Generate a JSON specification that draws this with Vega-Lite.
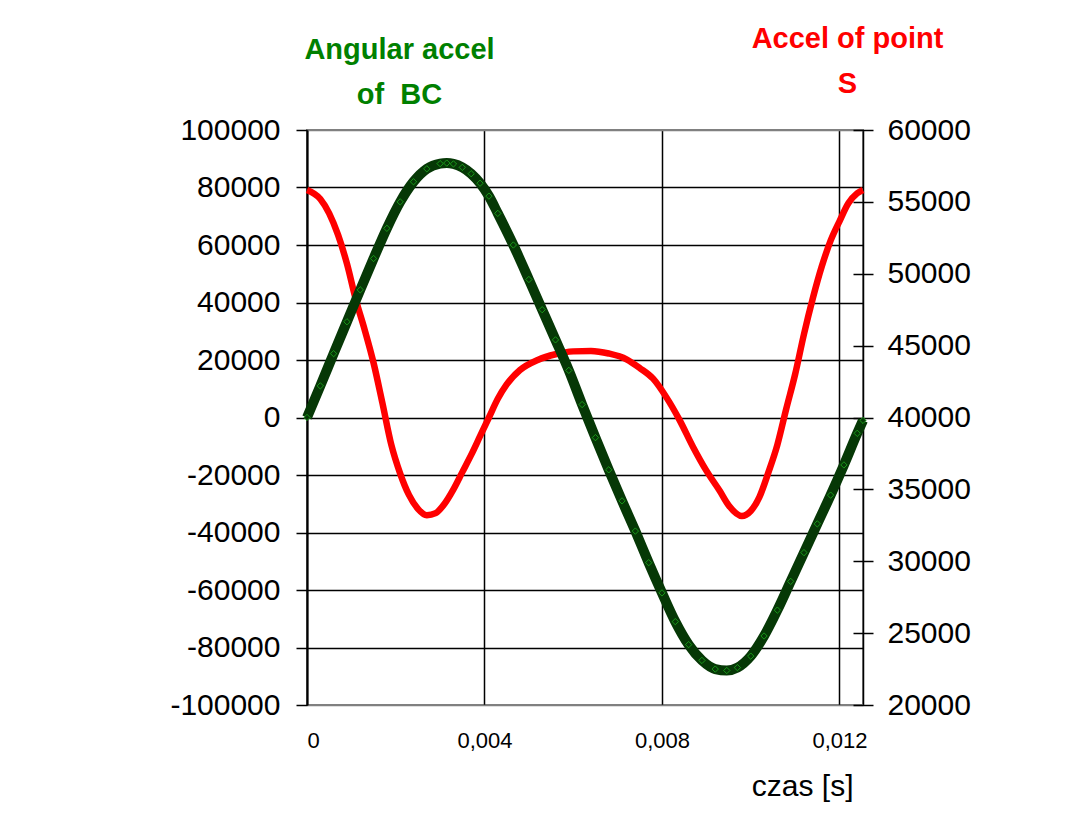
{
  "$schema": "https://vega.github.io/schema/vega-lite/v6.json",
  "width": 556,
  "height": 575,
  "autosize": {"type": "none"},
  "padding": {"left": 307, "top": 130, "right": 216, "bottom": 122},
  "background": "white",
  "config": {
    "font": "Liberation Sans",
    "view": {"stroke": "#808080", "strokeWidth": 2}
  },
  "datasets": {
    "ang": [
      {"t": 0, "v": 0},
      {"t": 0.0003, "v": 11000},
      {"t": 0.0006, "v": 22200},
      {"t": 0.0009, "v": 33300},
      {"t": 0.0012, "v": 44400},
      {"t": 0.0015, "v": 55300},
      {"t": 0.0018, "v": 65800},
      {"t": 0.0021, "v": 75000},
      {"t": 0.0024, "v": 82000},
      {"t": 0.0027, "v": 86500},
      {"t": 0.003, "v": 88300},
      {"t": 0.00315, "v": 88500},
      {"t": 0.0033, "v": 88200},
      {"t": 0.0035, "v": 87000},
      {"t": 0.0037, "v": 84800},
      {"t": 0.0039, "v": 81500},
      {"t": 0.0041, "v": 77000},
      {"t": 0.0043, "v": 71000},
      {"t": 0.00465, "v": 60000},
      {"t": 0.005, "v": 48000},
      {"t": 0.0053, "v": 37500},
      {"t": 0.0056, "v": 27000},
      {"t": 0.0059, "v": 16400},
      {"t": 0.0062, "v": 4500},
      {"t": 0.0065, "v": -7000},
      {"t": 0.0068, "v": -18200},
      {"t": 0.0071, "v": -29000},
      {"t": 0.0074, "v": -39500},
      {"t": 0.0077, "v": -50500},
      {"t": 0.008, "v": -61000},
      {"t": 0.0083, "v": -71000},
      {"t": 0.0086, "v": -79000},
      {"t": 0.0089, "v": -84500},
      {"t": 0.0092, "v": -87500},
      {"t": 0.00946, "v": -88000},
      {"t": 0.0097, "v": -87000},
      {"t": 0.01, "v": -83000},
      {"t": 0.0103, "v": -76000},
      {"t": 0.0106, "v": -67000},
      {"t": 0.0109, "v": -57000},
      {"t": 0.0112, "v": -47000},
      {"t": 0.0115, "v": -37000},
      {"t": 0.0118, "v": -27000},
      {"t": 0.0121, "v": -16500},
      {"t": 0.0124, "v": -5500},
      {"t": 0.01253, "v": -1000}
    ],
    "acc": [
      {"t": 0, "v": 55830},
      {"t": 0.0003, "v": 55200},
      {"t": 0.0005, "v": 54200},
      {"t": 0.0007, "v": 52700},
      {"t": 0.0009, "v": 50700},
      {"t": 0.0011, "v": 48200},
      {"t": 0.0013, "v": 46100},
      {"t": 0.0015, "v": 43800},
      {"t": 0.0017, "v": 41000},
      {"t": 0.0019, "v": 38100},
      {"t": 0.0021, "v": 36100},
      {"t": 0.0023, "v": 34600},
      {"t": 0.0025, "v": 33650},
      {"t": 0.0027, "v": 33200},
      {"t": 0.0029, "v": 33350},
      {"t": 0.0031, "v": 34000},
      {"t": 0.0033, "v": 35000},
      {"t": 0.0035, "v": 36200},
      {"t": 0.0037, "v": 37400},
      {"t": 0.0039, "v": 38700},
      {"t": 0.0041, "v": 40000},
      {"t": 0.0043, "v": 41300},
      {"t": 0.0045, "v": 42300},
      {"t": 0.0048, "v": 43300},
      {"t": 0.0052, "v": 44000},
      {"t": 0.0056, "v": 44400},
      {"t": 0.006, "v": 44600},
      {"t": 0.0064, "v": 44630},
      {"t": 0.0068, "v": 44450},
      {"t": 0.0072, "v": 44050},
      {"t": 0.0075, "v": 43440},
      {"t": 0.0078, "v": 42700},
      {"t": 0.0081, "v": 41400},
      {"t": 0.0084, "v": 39800},
      {"t": 0.0087, "v": 37950},
      {"t": 0.009, "v": 36300},
      {"t": 0.0093, "v": 34900},
      {"t": 0.0095, "v": 33900},
      {"t": 0.0098, "v": 33150},
      {"t": 0.01, "v": 33500},
      {"t": 0.0102, "v": 34500},
      {"t": 0.0104, "v": 36200},
      {"t": 0.0106, "v": 38100},
      {"t": 0.0108, "v": 40600},
      {"t": 0.011, "v": 43000},
      {"t": 0.0112, "v": 45800},
      {"t": 0.0114, "v": 48300},
      {"t": 0.0116, "v": 50500},
      {"t": 0.0118, "v": 52300},
      {"t": 0.012, "v": 53650},
      {"t": 0.0122, "v": 54900},
      {"t": 0.0124, "v": 55600},
      {"t": 0.01253, "v": 55830}
    ]
  },
  "encoding": {
    "x": {
      "field": "t",
      "type": "quantitative",
      "scale": {"domain": [0, 0.01253], "nice": false, "zero": false},
      "axis": {
        "values": [0, 0.004, 0.008, 0.012, 0.01253],
        "grid": true,
        "gridColor": "black",
        "gridWidth": 1.5,
        "domain": false,
        "ticks": false,
        "labelFontSize": 22,
        "labelColor": "black",
        "labelPadding": 25,
        "labelExpr": "datum.value > 0.0125 ? '' : (datum.value == 0 ? '0' : replace(format(datum.value, '.3f'), '.', ','))",
        "title": "czas [s]",
        "titleFontSize": 30,
        "titleFontWeight": "normal",
        "titleColor": "black",
        "titleX": 546,
        "titleY": 90,
        "titleAlign": "right",
        "titleAnchor": null,
        "titleBaseline": "alphabetic"
      }
    }
  },
  "layer": [
    {
      "data": {"name": "acc"},
      "mark": {"type": "line", "color": "#ff0000", "strokeWidth": 6.5, "interpolate": "monotone"},
      "encoding": {
        "y": {
          "field": "v",
          "type": "quantitative",
          "scale": {"domain": [20000, 60000], "nice": false, "zero": false},
          "axis": {
            "orient": "right",
            "values": [20000, 25000, 30000, 35000, 40000, 45000, 50000, 55000, 60000],
            "labelExpr": "format(datum.value, 'd')",
            "offset": -10,
            "domain": false,
            "grid": false,
            "tickSize": 20,
            "tickColor": "black",
            "tickWidth": 1.5,
            "labelFontSize": 30,
            "labelPadding": 14,
            "labelColor": "black",
            "title": ["Accel of point", "S"],
            "titleColor": "#ff0000",
            "titleFontSize": 29,
            "titleFontWeight": "bold",
            "titleAngle": 0,
            "titleX": -6,
            "titleY": -83,
            "titleAlign": "center",
            "titleBaseline": "alphabetic",
            "titleLineHeight": 45
          }
        }
      }
    },
    {
      "data": {"name": "ang"},
      "encoding": {
        "y": {
          "field": "v",
          "type": "quantitative",
          "scale": {"domain": [-100000, 100000], "nice": false},
          "axis": {
            "orient": "left",
            "values": [-100000, -80000, -60000, -40000, -20000, 0, 20000, 40000, 60000, 80000, 100000],
            "labelExpr": "replace(format(datum.value, 'd'), '\u2212', '-')",
            "grid": true,
            "gridColor": {"condition": {"test": "abs(datum.value) == 100000", "value": "#808080"}, "value": "black"},
            "gridWidth": 1.5,
            "domainColor": "black",
            "domainWidth": 2,
            "tickColor": "black",
            "tickSize": 11,
            "tickWidth": 1.5,
            "labelFontSize": 30,
            "labelPadding": 16,
            "labelColor": "black",
            "title": ["Angular accel", "of \u00a0BC"],
            "titleColor": "#008000",
            "titleFontSize": 29,
            "titleFontWeight": "bold",
            "titleAngle": 0,
            "titleX": 92,
            "titleY": -72,
            "titleAlign": "center",
            "titleBaseline": "alphabetic",
            "titleLineHeight": 45
          }
        }
      },
      "layer": [
        {"mark": {"type": "line", "color": "#063806", "strokeWidth": 10, "interpolate": "monotone"}},
        {"mark": {"type": "point", "shape": "diamond", "filled": true, "size": 40, "color": "#063806", "stroke": "#22c022", "strokeWidth": 0.7, "opacity": 1}}
      ]
    }
  ],
  "resolve": {"scale": {"y": "independent"}}
}
